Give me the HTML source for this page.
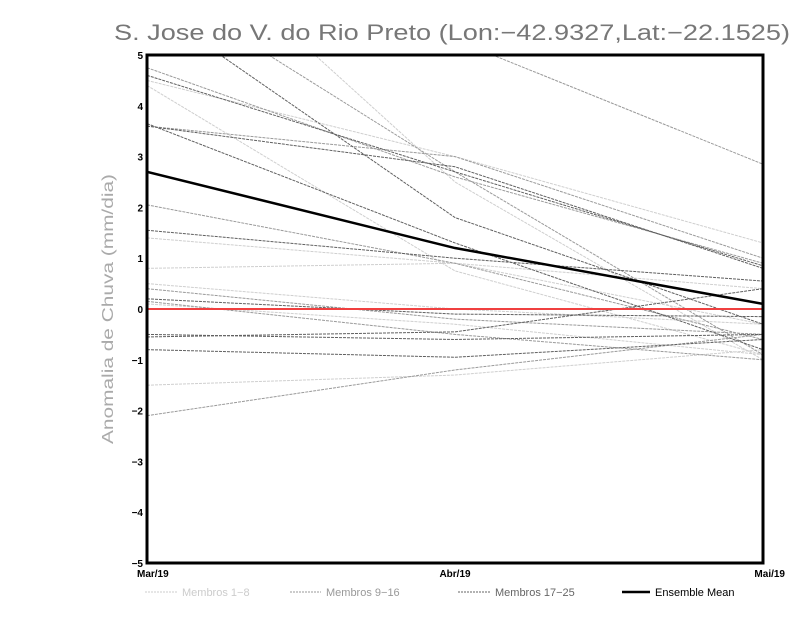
<!DOCTYPE html>
<html><head><meta charset="utf-8"><style>
body{margin:0;background:#fff;width:800px;height:618px;overflow:hidden}
svg{display:block;font-family:"Liberation Sans",sans-serif}
</style></head><body>
<svg id="chart" width="800" height="618" viewBox="0 0 800 618">
<text x="452" y="40" text-anchor="middle" font-size="22" fill="#777" textLength="676" lengthAdjust="spacingAndGlyphs">S. Jose do V. do Rio Preto (Lon:−42.9327,Lat:−22.1525)</text>
<text transform="translate(113,309) rotate(-90)" text-anchor="middle" font-size="16" fill="#aaa" textLength="270" lengthAdjust="spacingAndGlyphs">Anomalia de Chuva (mm/dia)</text>
<defs><clipPath id="plotclip"><rect x="147" y="55" width="616" height="508"/></clipPath></defs>
<g id="series" clip-path="url(#plotclip)"></g>
<g id="axes"></g>
<g>
<line x1="145" y1="592" x2="178" y2="592" stroke="#ccc" stroke-dasharray="2,1"/>
<text x="182" y="596" font-size="11" fill="#ccc">Membros 1−8</text>
<line x1="290" y1="592" x2="321" y2="592" stroke="#999" stroke-dasharray="2,1"/>
<text x="326" y="596" font-size="11" fill="#999">Membros 9−16</text>
<line x1="458" y1="592" x2="490" y2="592" stroke="#666" stroke-dasharray="2,1"/>
<text x="495" y="596" font-size="11" fill="#666">Membros 17−25</text>
<line x1="622" y1="592" x2="650" y2="592" stroke="#000" stroke-width="2.5"/>
<text x="655" y="596" font-size="11" fill="#000">Ensemble Mean</text>
</g>
</svg>
<script>
const months=["Mar/19","Abr/19","Mai/19"];
const yTicks=[-5,-4,-3,-2,-1,0,1,2,3,4,5];
const members1to8=[[4.4,0.75,-0.9],[4.5,3.0,1.3],[8.0,2.5,-1.0],[1.4,0.9,-0.3],[0.8,0.9,0.4],[0.5,0.0,-0.3],[-1.5,-1.3,-0.8],[0.1,-0.3,-0.9]];
const members9to16=[[4.75,2.6,0.9],[6.5,2.7,-0.9],[2.05,0.9,-0.6],[-2.1,-1.2,-0.5],[0.15,-0.5,-1.0],[0.4,-0.2,-0.5],[7.0,5.3,2.85],[3.6,3.0,1.0]];
const members17to25=[[4.6,2.7,0.85],[3.65,1.3,-0.8],[6.0,1.8,-0.3],[1.55,1.0,0.55],[-0.55,-0.45,0.4],[-0.5,-0.6,-0.5],[-0.8,-0.95,-0.6],[0.2,-0.1,-0.15],[3.6,2.8,0.8]];
const ensembleMean=[2.7,1.2,0.1];
const zeroLine=[0,0,0];

const X0=147,X1=763,Y0=563,Y1=55,YMIN=-5,YMAX=5;
const xs=i=>X0+(X1-X0)*i/(months.length-1);
const ys=v=>Y0-(v-YMIN)/(YMAX-YMIN)*(Y0-Y1);
const NS="http://www.w3.org/2000/svg";
const series=document.getElementById('series'),axes=document.getElementById('axes');
function poly(vals,stroke,w,dash,parent){
  const p=document.createElementNS(NS,'polyline');
  p.setAttribute('points',vals.map((v,i)=>xs(i)+','+ys(v)).join(' '));
  p.setAttribute('fill','none');p.setAttribute('stroke',stroke);p.setAttribute('stroke-width',w);
  if(dash)p.setAttribute('stroke-dasharray',dash);
  parent.appendChild(p);return p;
}
members1to8.forEach(m=>{const p=poly(m,'#cfcfcf',1,'3,1',series);

});
members9to16.forEach(m=>{const p=poly(m,'#9a9a9a',1,'3,1',series);

});
members17to25.forEach(m=>{const p=poly(m,'#606060',1,'3,1',series);

});
const z=poly(zeroLine,'#f04040',2,null,series);


const em=poly(ensembleMean,'#000',2.5,null,series);


const fr=document.createElementNS(NS,'rect');
fr.setAttribute('x',X0);fr.setAttribute('y',Y1);fr.setAttribute('width',X1-X0);fr.setAttribute('height',Y0-Y1);
fr.setAttribute('fill','none');fr.setAttribute('stroke','#000');fr.setAttribute('stroke-width','3');


axes.appendChild(fr);
yTicks.forEach(t=>{
  const tx=document.createElementNS(NS,'text');
  tx.setAttribute('x',X0-4);tx.setAttribute('y',ys(t)+4);tx.setAttribute('text-anchor','end');
  tx.setAttribute('font-size','10');tx.setAttribute('font-weight','bold');
  tx.textContent=t<0?'−'+(-t):String(t);
  
  
  axes.appendChild(tx);
});
months.forEach((m,i)=>{
  const tx=document.createElementNS(NS,'text');
  let x=xs(i),a='middle';if(i===0){x=X0-10;a='start';}if(i===months.length-1){x=X1+22;a='end';}
  tx.setAttribute('x',x);tx.setAttribute('y',577);tx.setAttribute('text-anchor',a);
  tx.setAttribute('font-size','10');tx.setAttribute('font-weight','bold');
  tx.textContent=m;
  
  
  axes.appendChild(tx);
});
</script>
</body></html>
